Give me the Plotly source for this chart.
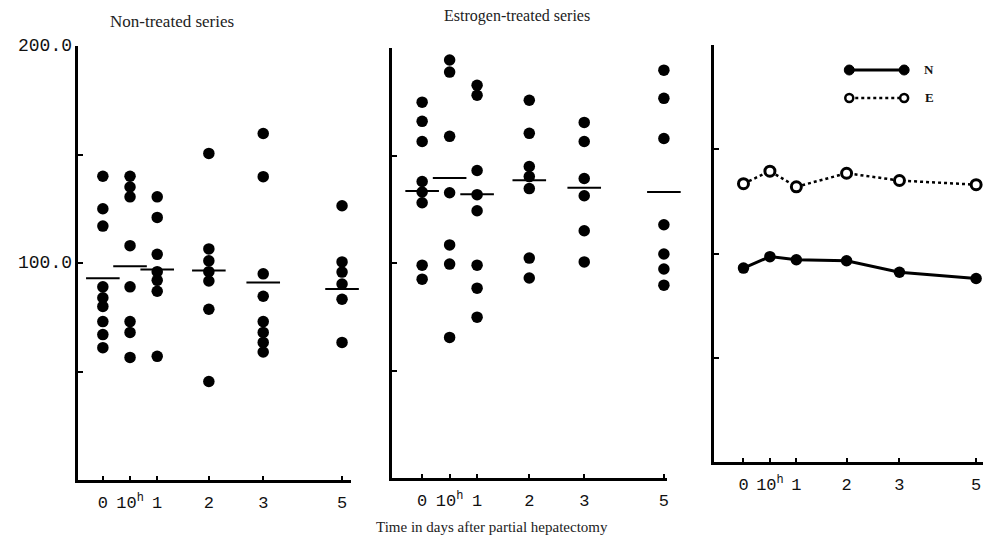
import plotly.graph_objects as go

# ---------------- data ----------------
categories = ["0", "10h", "1", "2", "3", "5"]
tick_labels = ["0", "10<sup>h</sup>", "1", "2", "3", "5"]

non_treated = [
    [140, 125, 117, 89, 84, 80, 73, 67, 61],
    [140, 135, 130.5, 108, 89, 73, 68, 56.5],
    [130.5, 121, 104, 96, 92, 87, 57],
    [150.5, 106.5, 101, 96, 91.7, 78.7, 45.4],
    [159.7, 139.8, 95, 84.7, 73, 68, 63.4, 59],
    [126.4, 100.5, 95.8, 90.3, 83.3, 63.4],
]
estrogen = [
    [174.8, 165.9, 156.5, 137.9, 133, 128, 99, 92.5],
    [194.4, 188.8, 158.9, 132.7, 108.4, 99.5, 65.4],
    [182.7, 178, 143, 131.8, 124.3, 99, 88.3, 74.8],
    [175.7, 160.3, 144.9, 140.2, 134.6, 102.3, 93],
    [165.4, 156.5, 139.3, 131.3, 115, 100.5],
    [189.7, 176.6, 157.9, 117.8, 104.2, 97.2, 89.7],
]
n_mean = [93, 98.5, 97, 96.5, 91, 88]
e_mean = [133.5, 139.5, 132, 138.5, 135, 133]

y_ticks = [0, 50, 100, 150, 200]
y_label_vals = [100, 200]
y_label_text = ["100.0", "200.0"]

# ---------------- layout helpers ----------------
W, H = 985, 541
# plotting position of each category along the (non-linear) time axis
pos = {"0": 0.0, "10h": 0.5, "1": 1.0, "2": 1.95, "3": 2.95, "5": 4.4}
xpos = [pos[c] for c in categories]

fig = go.Figure()


def scatter_panel(groups, means, xa, ya):
    xs, ys = [], []
    for c, vals in zip(categories, groups):
        for v in vals:
            xs.append(pos[c])
            ys.append(v)
    fig.add_trace(go.Scatter(x=xs, y=ys, mode="markers", xaxis=xa, yaxis=ya,
                             marker=dict(size=11.5, color="black"), cliponaxis=False,
                             showlegend=False, hoverinfo="y"))
    fig.add_trace(go.Scatter(x=xpos, y=means, mode="markers", xaxis=xa, yaxis=ya,
                             marker=dict(symbol="line-ew", size=24,
                                         line=dict(color="black", width=2)),
                             cliponaxis=False, showlegend=False, hoverinfo="y"))


scatter_panel(non_treated, n_mean, "x", "y")
scatter_panel(estrogen, e_mean, "x2", "y2")

fig.add_trace(go.Scatter(x=xpos, y=n_mean, mode="lines+markers", xaxis="x3", yaxis="y3",
                         line=dict(color="black", width=3),
                         marker=dict(size=11.5, color="black"), cliponaxis=False,
                         name="N", showlegend=False))
fig.add_trace(go.Scatter(x=xpos, y=e_mean, mode="lines+markers", xaxis="x3", yaxis="y3",
                         line=dict(color="black", width=2.5, dash="dot"),
                         marker=dict(size=10, color="white",
                                     line=dict(color="black", width=3)),
                         cliponaxis=False, name="E", showlegend=False))


def px_x(p):
    return p / W


def px_y(p):
    return 1 - p / H


common_x = dict(showline=True, linewidth=3, linecolor="black", showgrid=False,
                zeroline=False, tickmode="array", tickvals=xpos, ticktext=tick_labels,
                ticks="inside", ticklen=4, tickwidth=2, tickcolor="black",
                ticklabelstandoff=5,
                tickfont=dict(family="Liberation Mono", size=17, color="#111"))
common_y = dict(showline=True, linewidth=3, linecolor="black", showgrid=False,
                zeroline=False, range=[0, 200], tickmode="array", tickvals=y_ticks,
                ticks="inside", ticklen=5, tickwidth=2, tickcolor="black",
                showticklabels=False)

fig.update_layout(
    width=W, height=H, margin=dict(l=0, r=0, t=0, b=0),
    paper_bgcolor="white", plot_bgcolor="white", showlegend=False,
    xaxis=dict(common_x, domain=[px_x(78), px_x(352)], range=[-0.46, 4.57], anchor="y"),
    yaxis=dict(common_y, domain=[px_y(480), px_y(46)], anchor="x"),
    xaxis2=dict(common_x, domain=[px_x(393), px_x(668)], range=[-0.545, 4.45], anchor="y2"),
    yaxis2=dict(common_y, domain=[px_y(478), px_y(48)], anchor="x2"),
    xaxis3=dict(common_x, domain=[px_x(715), px_x(985)], range=[-0.566, 4.53], anchor="y3"),
    yaxis3=dict(common_y, domain=[px_y(462), px_y(45)], anchor="x3"),
)

# ---------------- legend (drawn) ----------------
shapes = []
ly_n, ly_e = 70, 98
x0, x1 = 851, 906
shapes.append(dict(type="line", xref="paper", yref="paper",
                   x0=px_x(x0), x1=px_x(x1), y0=px_y(ly_n), y1=px_y(ly_n),
                   line=dict(color="black", width=3)))
shapes.append(dict(type="line", xref="paper", yref="paper",
                   x0=px_x(x0), x1=px_x(x1), y0=px_y(ly_e), y1=px_y(ly_e),
                   line=dict(color="black", width=2.5, dash="dot")))
r = 5
for cx in (x0, x1):
    shapes.append(dict(type="circle", xref="paper", yref="paper",
                       x0=px_x(cx - r), x1=px_x(cx + r), y0=px_y(ly_n + r), y1=px_y(ly_n - r),
                       fillcolor="black", line=dict(color="black", width=1)))
    shapes.append(dict(type="circle", xref="paper", yref="paper",
                       x0=px_x(cx - 4), x1=px_x(cx + 4), y0=px_y(ly_e + 4), y1=px_y(ly_e - 4),
                       fillcolor="white", line=dict(color="black", width=2.5)))
fig.update_layout(shapes=shapes)

ann = []
# y tick labels of the left panel (drawn as annotations next to the axis)
for v, t in zip(y_label_vals, y_label_text):
    ann.append(dict(text=t, x=0, xref="x domain", y=v, yref="y",
                    xanchor="right", yanchor="middle", xshift=-4, showarrow=False,
                    font=dict(family="Liberation Mono", size=18, color="#111")))
ann += [
    dict(text="<b>N</b>", x=px_x(931), y=px_y(ly_n), xref="paper", yref="paper",
         showarrow=False, xanchor="center", yanchor="middle",
         font=dict(family="Liberation Serif", size=13, color="#111")),
    dict(text="<b>E</b>", x=px_x(931), y=px_y(ly_e), xref="paper", yref="paper",
         showarrow=False, xanchor="center", yanchor="middle",
         font=dict(family="Liberation Serif", size=13, color="#111")),
    dict(text="Non-treated series", x=px_x(172), y=px_y(22), xref="paper", yref="paper",
         showarrow=False, xanchor="center", yanchor="middle",
         font=dict(family="Liberation Serif", size=17, color="#222")),
    dict(text="Estrogen-treated series", x=px_x(518), y=px_y(16), xref="paper", yref="paper",
         showarrow=False, xanchor="center", yanchor="middle",
         font=dict(family="Liberation Serif", size=16, color="#222")),
    dict(text="Time in days after partial hepatectomy", x=px_x(493), y=px_y(527),
         xref="paper", yref="paper", showarrow=False, xanchor="center", yanchor="middle",
         font=dict(family="Liberation Serif", size=15, color="#222")),
]
fig.update_layout(annotations=ann)

fig.write_html("out.html")
